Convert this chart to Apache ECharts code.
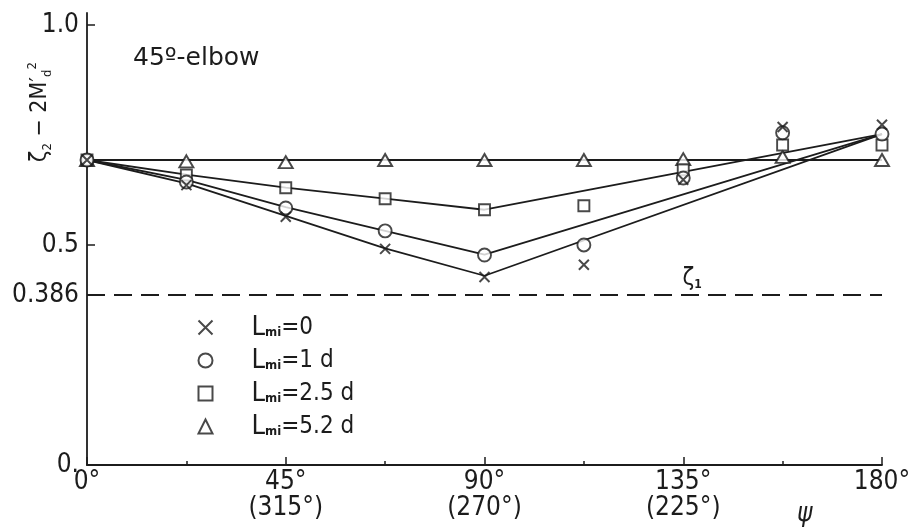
<!DOCTYPE html>
<html>
<head>
<meta charset="utf-8">
<script src="https://cdn.jsdelivr.net/npm/echarts@6/dist/echarts.min.js"></script>
<style>
  html, body { margin: 0; padding: 0; background: #fff; }
  #chart { width: 915px; height: 532px; }
</style>
</head>
<body>
<div id="chart"></div>
<script>
// Measured points: branch angle psi (deg) vs loss coefficient for each spacing L_mi
const angles = [0, 22.5, 45, 67.5, 90, 112.5, 135, 157.5, 180];
const lm0  = [0.693, 0.636, 0.564, 0.491, 0.427, 0.455, 0.648, 0.768, 0.773];
const lm1  = [0.693, 0.643, 0.584, 0.532, 0.477, 0.500, 0.652, 0.755, 0.752];
const lm25 = [0.693, 0.659, 0.630, 0.605, 0.580, 0.589, 0.671, 0.727, 0.727];
const lm52 = [0.693, 0.690, 0.688, 0.693, 0.693, 0.693, 0.695, 0.700, 0.693];

// Faired curves through the data
const fitAngles = [0, 22.5, 45, 67.5, 90, 180];
const fit0  = [0.693, 0.640, 0.566, 0.492, 0.430, 0.752];
const fit1  = [0.693, 0.648, 0.586, 0.532, 0.478, 0.752];
const fit25 = [0.693, 0.660, 0.630, 0.605, 0.580, 0.752];
const fit52Angles = [0, 180];
const fit52 = [0.693, 0.693];

// Single-elbow reference level
const zeta1 = 0.386;

const seriesNames = ['Lmi=0', 'Lmi=1 d', 'Lmi=2.5 d', 'Lmi=5.2 d'];
const xTickLabels = ['0°', '45°\n(315°)', '90°\n(270°)', '135°\n(225°)', '180°'];
const yTickValues = [0, 0.386, 0.5, 1.0];
const yTickLabels = ['0.', '0.386', '0.5', '1.0'];

const FONT = '"DejaVu Sans Condensed", "Liberation Sans Narrow", "DejaVu Sans", sans-serif';
const WIDE = '"DejaVu Sans", sans-serif';
const INK = '#1c1c1c';

const pair = (xs, ys) => xs.map((x, i) => [x, ys[i]]);

const markerStyle = { color: '#fff', borderColor: INK, borderWidth: 1.9 };
const crossPath = 'path://M0,0L10,10M10,0L0,10';

function fitLine(xs, ys) {
  return {
    type: 'line', data: pair(xs, ys), symbol: 'none', silent: true,
    lineStyle: { color: INK, width: 1.8 }, z: 2
  };
}

const chart = echarts.init(document.getElementById('chart'), null, { renderer: 'canvas' });

chart.setOption({
  animation: false,
  backgroundColor: '#fff',
  textStyle: { fontFamily: FONT, color: INK },
  grid: { left: 87, right: 33, top: 13, bottom: 67, containLabel: false },
  xAxis: {
    type: 'value', min: 0, max: 180, interval: 45,
    axisLine: { lineStyle: { color: INK, width: 1.8 } },
    axisTick: { inside: true, length: 8, lineStyle: { color: INK, width: 1.5 } },
    minorTick: { show: true, splitNumber: 2, length: 4, lineStyle: { color: INK, width: 1.5 } },
    splitLine: { show: false },
    axisLabel: {
      margin: 4, fontSize: 26, lineHeight: 26, color: INK, fontFamily: FONT,
      formatter: v => xTickLabels[Math.round(v / 45)]
    }
  },
  yAxis: {
    type: 'value', min: 0, max: 1.027,
    axisLine: { show: true, lineStyle: { color: INK, width: 1.8 } },
    axisTick: { show: true, inside: true, length: 8, customValues: [0.5, 1.0], lineStyle: { color: INK, width: 1.5 } },
    splitLine: { show: false },
    axisLabel: {
      customValues: yTickValues, margin: 8, fontSize: 26, color: INK, fontFamily: FONT,
      formatter: v => {
        const i = yTickValues.findIndex(t => Math.abs(t - v) < 1e-6);
        return i >= 0 ? yTickLabels[i] : '';
      }
    }
  },
  legend: {
    orient: 'vertical', left: 191, top: 309,
    itemWidth: 14, itemHeight: 14, itemGap: 6,
    symbolKeepAspect: true,
    data: seriesNames,
    formatter: name => '{L|L}{s|mi}{v|' + name.slice(3) + '}',
    textStyle: {
      color: INK, fontFamily: FONT,
      rich: {
        L: { fontSize: 27, lineHeight: 24, fontFamily: FONT, color: INK, padding: [0, 0, 0, 34] },
        s: { fontSize: 13, lineHeight: 13, verticalAlign: 'bottom', fontFamily: FONT, color: INK, fontWeight: 'bold' },
        v: { fontSize: 24, lineHeight: 24, fontFamily: FONT, color: INK }
      }
    }
  },
  graphic: [
    {
      type: 'text', left: 133, top: 46,
      style: { text: '45º-elbow', font: '25px ' + WIDE, fill: INK }
    },
    {
      type: 'text', x: 40, y: 112, rotation: Math.PI / 2,
      style: {
        text: '{a|ζ}{b|2}{a| − 2M′}{b|d}{c|2}',
        align: 'center', verticalAlign: 'middle', fill: INK,
        rich: {
          a: { fontSize: 23, lineHeight: 28, fontFamily: FONT, fill: INK },
          b: { fontSize: 13, lineHeight: 14, verticalAlign: 'bottom', fontFamily: FONT, fill: INK },
          c: { fontSize: 13, lineHeight: 14, verticalAlign: 'top', fontFamily: FONT, fill: INK }
        }
      }
    },
    {
      type: 'text', left: 797, top: 501,
      style: { text: 'ψ', font: 'italic 26px ' + FONT, fill: INK }
    }
  ],
  series: [
    fitLine(fitAngles, fit0),
    fitLine(fitAngles, fit1),
    fitLine(fitAngles, fit25),
    fitLine(fit52Angles, fit52),
    {
      type: 'line', data: [[0, zeta1], [180, zeta1]], symbol: 'none', silent: true,
      lineStyle: { color: INK, width: 2, type: [18, 9] }, z: 2,
      markPoint: {
        symbol: 'circle', symbolSize: 0, silent: true,
        data: [{ coord: [137, zeta1] }],
        label: {
          show: true, position: 'top', distance: 4,
          formatter: () => '{z|ζ}{s|1}',
          rich: {
            z: { fontSize: 24, lineHeight: 24, fontFamily: FONT, color: INK },
            s: { fontSize: 12, lineHeight: 12, verticalAlign: 'bottom', fontFamily: FONT, color: INK, fontWeight: 'bold' }
          }
        }
      }
    },
    {
      name: seriesNames[3], type: 'scatter', data: pair(angles, lm52),
      symbol: 'triangle', symbolSize: [14, 12], symbolKeepAspect: true, itemStyle: markerStyle, z: 3
    },
    {
      name: seriesNames[2], type: 'scatter', data: pair(angles, lm25),
      symbol: 'rect', symbolSize: 11, symbolKeepAspect: true, itemStyle: markerStyle, z: 4
    },
    {
      name: seriesNames[1], type: 'scatter', data: pair(angles, lm1),
      symbol: 'circle', symbolSize: 13, itemStyle: markerStyle, z: 5
    },
    {
      name: seriesNames[0], type: 'scatter', data: pair(angles, lm0),
      symbol: crossPath, symbolSize: 10, symbolKeepAspect: true,
      itemStyle: { color: 'none', borderColor: INK, borderWidth: 2 }, z: 6
    }
  ]
});
</script>
</body>
</html>
